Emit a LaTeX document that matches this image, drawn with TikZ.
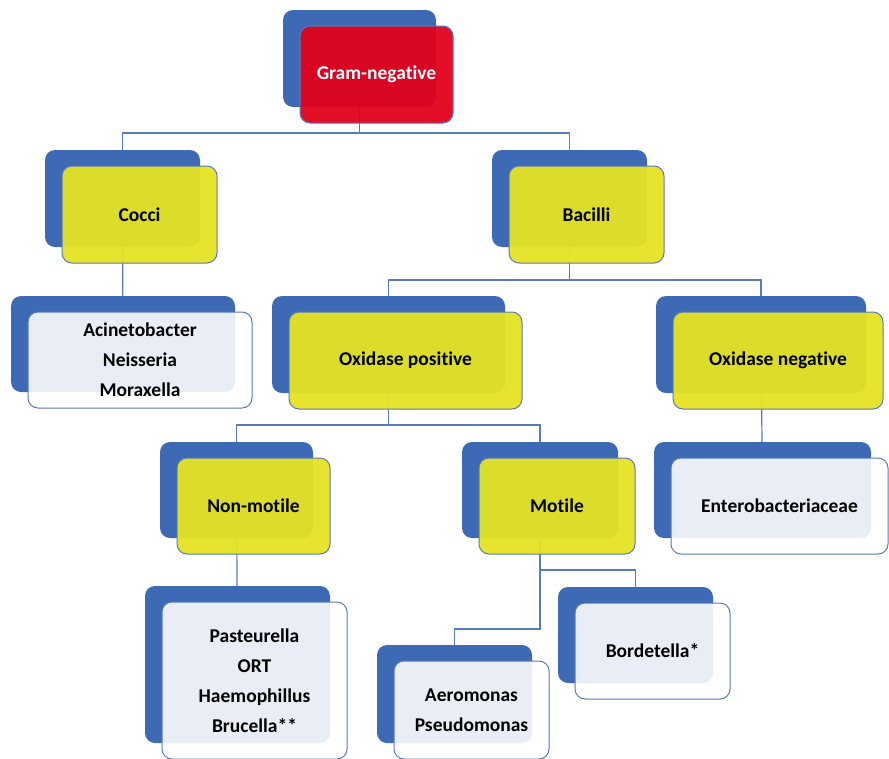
\documentclass[tikz,border=0pt]{standalone}
\usepackage{fontspec}
\setmainfont{Carlito}[Ligatures=NoCommon]
\definecolor{cardblue}{RGB}{62,105,180}
\definecolor{edgeblue}{RGB}{88,122,190}
\definecolor{gramred}{RGB}{226,0,26}
\definecolor{yellowcard}{RGB}{229,227,36}
\definecolor{palecard}{RGB}{255,255,255}
\tikzset{
  backbox/.style={draw=none, fill=cardblue, rounded corners=10pt, inner sep=0pt},
  frontbox/.style={draw=edgeblue, line width=1pt, rounded corners=10pt, inner sep=0pt,
    text opacity=1, align=center,
    font=\fontsize{19.5}{30}\selectfont\bfseries},
  redcard/.style={frontbox, fill=gramred, fill opacity=0.94, text=white},
  yellowbox/.style={frontbox, fill=yellowcard, fill opacity=0.95, text=black},
  palebox/.style={frontbox, fill=palecard, fill opacity=0.89, text=black},
  link/.style={draw=edgeblue, line width=1.2pt}
}
% \card{name}{back centre x}{back centre y}{width}{height}{style}{text}
\newcommand{\card}[7]{%
  \node[backbox, minimum width=#4pt, minimum height=#5pt] (#1-back) at (#2,#3) {};
  \node[#6, minimum width=#4pt, minimum height=#5pt] (#1) at (#2+17,#3+16) {#7};
}
\begin{document}
\begin{tikzpicture}[x=1pt,y=-1pt]
\useasboundingbox (0,0) rectangle (889,758);
% bus levels of the elbow connectors
\coordinate (bus1) at (0,133);
\coordinate (bus2) at (0,280);
\coordinate (bus3) at (0,425);
\coordinate (bus4) at (0,570);
\coordinate (bus5) at (0,629);
% centres of the back cards; connectors are drawn first so the cards sit on top
\path
  (359.5,58.5) coordinate (p-gram)
  (122.5,198.5) coordinate (p-cocci)
  (569.5,198.5) coordinate (p-bacilli)
  (123,344) coordinate (p-acin)
  (388.5,344.5) coordinate (p-oxpos)
  (761,344.5) coordinate (p-oxneg)
  (236.5,490) coordinate (p-nonmot)
  (540,490) coordinate (p-motile)
  (762.5,490) coordinate (p-entero)
  (237.5,664.5) coordinate (p-paste)
  (635.5,635) coordinate (p-bord)
  (454.5,694) coordinate (p-aero);
\draw[link] (p-gram) -- (p-gram |- bus1) -| (p-cocci);
\draw[link] (p-gram |- bus1) -| (p-bacilli);
\draw[link] (p-cocci) -- (p-acin);
\draw[link] (p-bacilli) -- (p-bacilli |- bus2) -| (p-oxpos);
\draw[link] (p-bacilli |- bus2) -| (p-oxneg);
\draw[link] (p-oxneg) -- (p-entero);
\draw[link] (p-oxpos) -- (p-oxpos |- bus3) -| (p-nonmot);
\draw[link] (p-oxpos |- bus3) -| (p-motile);
\draw[link] (p-nonmot) -- (p-paste);
\draw[link] (p-motile) -- (p-motile |- bus4) -| (p-bord);
\draw[link] (p-motile) -- (p-motile |- bus5) -| (p-aero);
% cards
\card{gram}{359.5}{58.5}{153}{97}{redcard}{Gram-negative}
\card{cocci}{122.5}{198.5}{155}{97}{yellowbox}{Cocci}
\card{bacilli}{569.5}{198.5}{155}{97}{yellowbox}{Bacilli}
\card{acin}{123}{344}{224}{96}{palebox}{Acinetobacter\\Neisseria\\Moraxella}
\card{oxpos}{388.5}{344.5}{233}{97}{yellowbox}{Oxidase positive}
\card{oxneg}{761}{344.5}{210}{97}{yellowbox}{Oxidase negative}
\card{nonmot}{236.5}{490}{153}{96}{yellowbox}{Non-motile}
\card{motile}{540}{490}{156}{96}{yellowbox}{Motile}
\card{entero}{762.5}{490}{217}{96}{palebox}{Enterobacteriaceae}
\card{paste}{237.5}{664.5}{185}{157}{palebox}{Pasteurella\\ORT\\Haemophillus\\Brucella**}
\card{bord}{635.5}{635}{155}{96}{palebox}{Bordetella*}
\card{aero}{454.5}{694}{155}{98}{palebox}{Aeromonas\\Pseudomonas}
\end{tikzpicture}
\end{document}
